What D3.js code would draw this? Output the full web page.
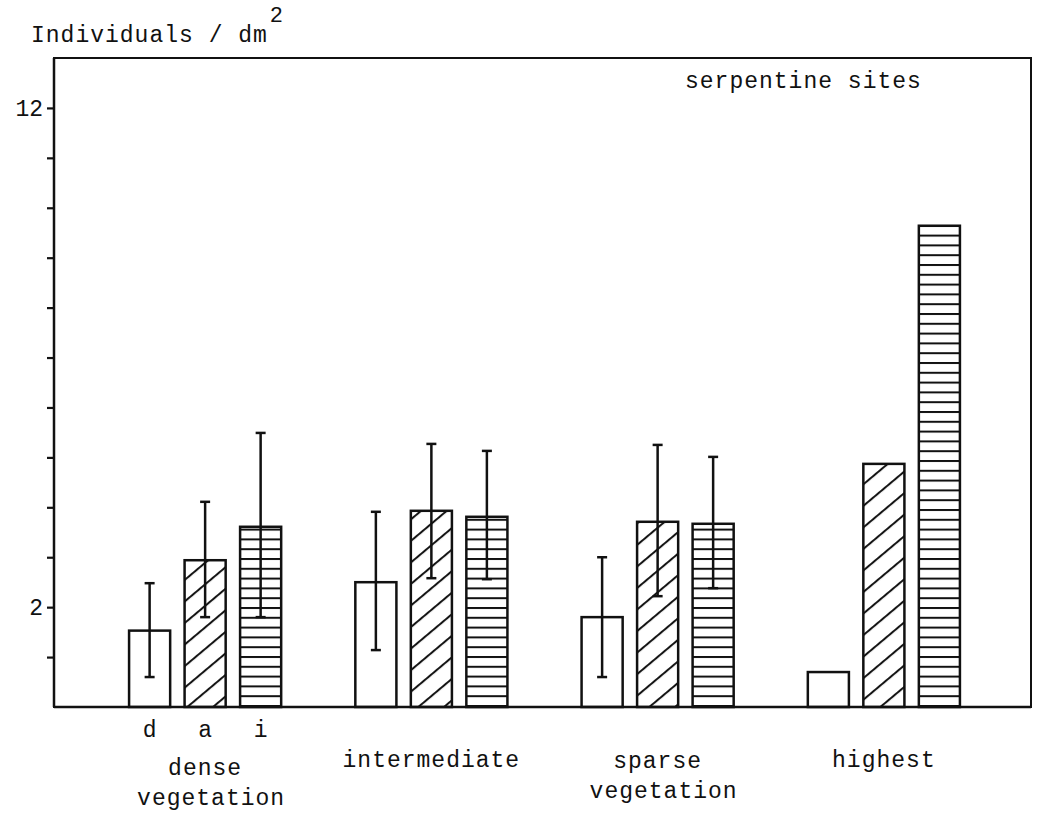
<!DOCTYPE html>
<html>
<head>
<meta charset="utf-8">
<script src="https://cdn.jsdelivr.net/npm/d3@7"></script>
<style>
  html, body { margin: 0; padding: 0; background: #fff; }
  svg { display: block; }
  text { font-family: "Liberation Mono", "Courier New", monospace; fill: #111; }
</style>
</head>
<body>
<svg id="chart" width="1037" height="820"></svg>
<script>
// ---- data ----
const groups = ["dense vegetation", "intermediate", "sparse vegetation", "highest"];
const groupLines = [["dense", "vegetation"], ["intermediate"], ["sparse", "vegetation"], ["highest"]];
const series = ["d", "a", "i"];
const valuesD = [1.53, 2.50, 1.80, 0.70];
const valuesA = [2.94, 3.93, 3.71, 4.87];
const valuesI = [3.61, 3.81, 3.67, 9.64];
const errLowD  = [0.60, 1.14, 0.60, null];
const errHighD = [2.48, 3.91, 3.00, null];
const errLowA  = [1.80, 2.58, 2.22, null];
const errHighA = [4.11, 5.27, 5.25, null];
const errLowI  = [1.80, 2.56, 2.38, null];
const errHighI = [5.49, 5.13, 5.01, null];
const yTicks = [1, 2, 3, 4, 5, 6, 7, 8, 9, 10, 11, 12];
const yTickLabels = [2, 12];
const yLabel = "Individuals / dm";
const yLabelSup = "2";
const panelTitle = "serpentine sites";

const valueBySeries = { d: valuesD, a: valuesA, i: valuesI };
const lowBySeries = { d: errLowD, a: errLowA, i: errLowI };
const highBySeries = { d: errHighD, a: errHighA, i: errHighI };

const records = [];
groups.forEach((g, gi) => {
  series.forEach(s => {
    records.push({ group: g, series: s, value: valueBySeries[s][gi],
                   lo: lowBySeries[s][gi], hi: highBySeries[s][gi] });
  });
});

// ---- layout ----
const svg = d3.select("#chart");
const frame = { left: 54, right: 1031, top: 58, bottom: 707 };

const y = d3.scaleLinear().domain([0, 13]).range([frame.bottom, frame.top]);
const x0 = d3.scaleBand().domain(groups).range([92, 997]).paddingInner(0.264).paddingOuter(0.132);
const x1 = d3.scaleBand().domain(series).range([0, x0.bandwidth()]).paddingInner(0.26).paddingOuter(0.13);

// ---- patterns ----
const defs = svg.append("defs");
const diag = defs.append("pattern")
  .attr("id", "diag").attr("patternUnits", "userSpaceOnUse")
  .attr("width", 16.5).attr("height", 16.5)
  .attr("patternTransform", "rotate(50)");
diag.append("rect").attr("width", 16.5).attr("height", 16.5).attr("fill", "#fff");
diag.append("line").attr("x1", 2).attr("y1", -2).attr("x2", 2).attr("y2", 20)
  .attr("stroke", "#111").attr("stroke-width", 2);

const horiz = defs.append("pattern")
  .attr("id", "horiz").attr("patternUnits", "userSpaceOnUse")
  .attr("width", 20).attr("height", 9.8).attr("y", frame.bottom - 2);
horiz.append("rect").attr("width", 20).attr("height", 9.8).attr("fill", "#fff");
horiz.append("line").attr("x1", 0).attr("y1", 1).attr("x2", 20).attr("y2", 1)
  .attr("stroke", "#111").attr("stroke-width", 2);

const fills = { d: "#fff", a: "url(#diag)", i: "url(#horiz)" };

// ---- bars ----
const gBars = svg.append("g");
gBars.selectAll("rect.bar").data(records).join("rect")
  .attr("class", "bar")
  .attr("x", d => x0(d.group) + x1(d.series))
  .attr("width", x1.bandwidth())
  .attr("y", d => y(d.value))
  .attr("height", d => y(0) - y(d.value))
  .attr("fill", d => fills[d.series])
  .attr("stroke", "#111").attr("stroke-width", 2.5);

// ---- error bars ----
const errs = records.filter(d => d.lo != null);
const cx = d => x0(d.group) + x1(d.series) + x1.bandwidth() / 2;
const gErr = svg.append("g").attr("stroke", "#111").attr("stroke-width", 2.5);
gErr.selectAll("line.v").data(errs).join("line").attr("class", "v")
  .attr("x1", cx).attr("x2", cx).attr("y1", d => y(d.lo)).attr("y2", d => y(d.hi));
gErr.selectAll("line.t").data(errs).join("line").attr("class", "t")
  .attr("x1", d => cx(d) - 5).attr("x2", d => cx(d) + 5).attr("y1", d => y(d.hi)).attr("y2", d => y(d.hi));
gErr.selectAll("line.b").data(errs).join("line").attr("class", "b")
  .attr("x1", d => cx(d) - 5).attr("x2", d => cx(d) + 5).attr("y1", d => y(d.lo)).attr("y2", d => y(d.lo));

// ---- frame ----
svg.append("rect")
  .attr("x", frame.left).attr("y", frame.top)
  .attr("width", frame.right - frame.left).attr("height", frame.bottom - frame.top)
  .attr("fill", "none").attr("stroke", "#111").attr("stroke-width", 2);
svg.append("line").attr("x1", frame.left).attr("x2", frame.right)
  .attr("y1", frame.bottom).attr("y2", frame.bottom).attr("stroke", "#111").attr("stroke-width", 2.5);
svg.append("line").attr("x1", frame.left).attr("x2", frame.left)
  .attr("y1", frame.top).attr("y2", frame.bottom).attr("stroke", "#111").attr("stroke-width", 2.5);

// ---- y axis ----
const yAxis = d3.axisLeft(y).tickValues(yTicks).tickSize(7).tickPadding(4)
  .tickFormat(d => yTickLabels.includes(d) ? String(d) : "");
const gy = svg.append("g").attr("transform", `translate(${frame.left},0)`).call(yAxis);
gy.select(".domain").remove();
gy.selectAll(".tick line").attr("stroke", "#111").attr("stroke-width", 2.2);
gy.selectAll(".tick text").attr("font-size", 23).attr("fill", "#111")
  .style("font-family", '"Liberation Mono", "Courier New", monospace');

// ---- y label ----
const yl = svg.append("text").attr("x", 31).attr("y", 42)
  .attr("font-size", 23).attr("letter-spacing", 1);
yl.append("tspan").text(yLabel);
yl.append("tspan").attr("dy", -20).attr("dx", 2).attr("font-size", 22).text(yLabelSup);

// ---- panel title ----
svg.append("text").attr("x", 685).attr("y", 88)
  .attr("font-size", 23).attr("letter-spacing", 1).text(panelTitle);

// ---- series labels under first group ----
svg.append("g").selectAll("text").data(series).join("text")
  .attr("x", s => x0(groups[0]) + x1(s) + x1.bandwidth() / 2)
  .attr("y", 737).attr("text-anchor", "middle").attr("font-size", 23)
  .text(s => s);

// ---- group labels ----
const baseY = [775, 767, 768, 767];
groups.forEach((g, gi) => {
  const t = svg.append("text")
    .attr("x", x0(g) + x0.bandwidth() / 2)
    .attr("y", baseY[gi]).attr("text-anchor", "middle")
    .attr("font-size", 23).attr("letter-spacing", 1);
  groupLines[gi].forEach((line, li) => {
    t.append("tspan").attr("x", x0(g) + x0.bandwidth() / 2 + (li > 0 ? 6 : 0))
      .attr("dy", li === 0 ? 0 : 30).text(line);
  });
});
</script>
</body>
</html>
